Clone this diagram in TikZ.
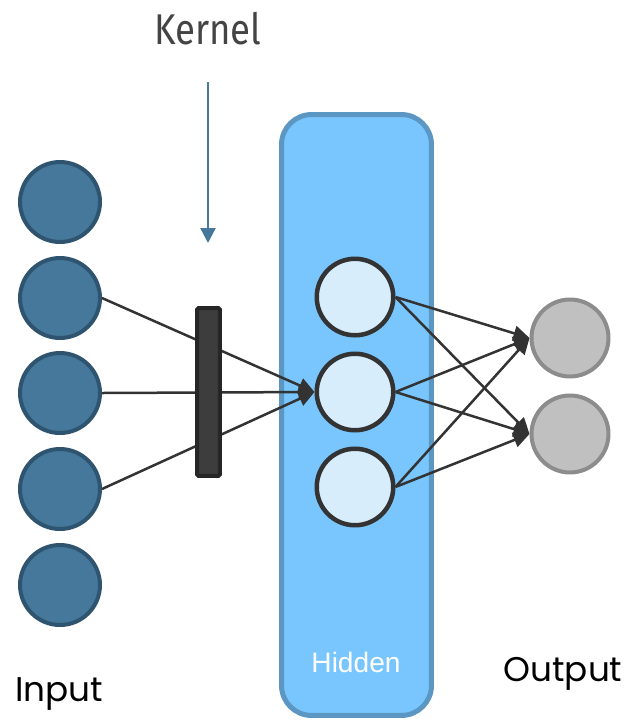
\documentclass[tikz,border=0pt]{standalone}
\usepackage{fontspec}
\setmainfont{Poppins}
\newfontfamily\kernelfont[FakeStretch=0.85]{Fira Sans}
\newfontfamily\hiddenfont{Liberation Sans}
\usepackage{xcolor}
\usetikzlibrary{arrows.meta, positioning}

\definecolor{infill}{HTML}{45789A}
\definecolor{inborder}{HTML}{2E5470}
\definecolor{hidfill}{HTML}{D8EDFC}
\definecolor{boxfill}{HTML}{78C6FD}
\definecolor{boxborder}{HTML}{5B97C2}
\definecolor{outfill}{HTML}{C0C0C0}
\definecolor{outborder}{HTML}{8C8C8C}
\definecolor{darkline}{HTML}{333333}
\definecolor{barfill}{HTML}{3D3D3D}
\definecolor{textgray}{HTML}{444444}

\begin{document}
\begin{tikzpicture}[
    x=0.02cm, y=-0.02cm,
    node distance=0.28cm,
    innode/.style={circle, draw=inborder, fill=infill, line width=0.08cm, minimum size=1.6cm, inner sep=0pt},
    hidnode/.style={circle, draw=darkline, fill=hidfill, line width=0.09cm, minimum size=1.53cm, inner sep=0pt},
    outnode/.style={circle, draw=outborder, fill=outfill, line width=0.08cm, minimum size=1.54cm, inner sep=0pt},
    arrow/.style={draw=darkline, line width=0.05cm, -{Triangle[length=0.32cm, width=0.3cm]}},
    label/.style={inner sep=0pt}
]
\useasboundingbox (0,0) rectangle (635,725);

% hidden layer box
\node[draw=boxborder, fill=boxfill, line width=0.1cm, rounded corners=0.6cm,
      minimum width=3cm, minimum height=12.02cm] (hiddenbox) at (356.5,415) {};
\node[label, text=white, font=\hiddenfont\fontsize{16}{19}\selectfont] (hiddenlbl) at (356,662) {Hidden};

% input layer
\foreach \i/\y in {1/202, 2/298, 3/393, 4/489, 5/585}
    \node[innode] (in\i) at (60,\y) {};
\node[label, font=\fontsize{19.5}{24}\selectfont] (inlbl) at (59,694) {Input};

% hidden nodes
\node[hidnode] (hid2) at (355,392) {};
\node[hidnode, above=of hid2] (hid1) {};
\node[hidnode, below=of hid2] (hid3) {};

% output nodes
\node[outnode] (out1) at (570,338) {};
\node[outnode, below=0.3cm of out1] (out2) {};
\node[label, font=\fontsize{19.5}{24}\selectfont] (outlbl) at (563,674) {Output};

% input to hidden
\foreach \i in {2,3,4}
    \draw[arrow] (in\i.east) -- (hid2.west);

% kernel bar on top of the lines
\node[draw=black!85, fill=barfill, line width=0.08cm, rounded corners=1pt,
      minimum width=0.46cm, minimum height=3.36cm, inner sep=0pt] (kernelbar) at (208.5,392) {};

% kernel label and pointer
\node[label, text=textgray, font=\kernelfont\fontsize{24.5}{28}\selectfont] (kernellbl) at (208,29) {Kernel};
\coordinate (kerneltop) at (208,82);
\coordinate (kernelend) at (208,243);
\draw[draw=infill, line width=0.045cm, -{Triangle[length=0.3cm, width=0.3cm]}] (kerneltop) -- (kernelend);

% hidden to output
\foreach \h in {1,2,3}
    \foreach \o in {1,2}
        \draw[arrow] (hid\h.east) -- (out\o.west);
\end{tikzpicture}
\end{document}
